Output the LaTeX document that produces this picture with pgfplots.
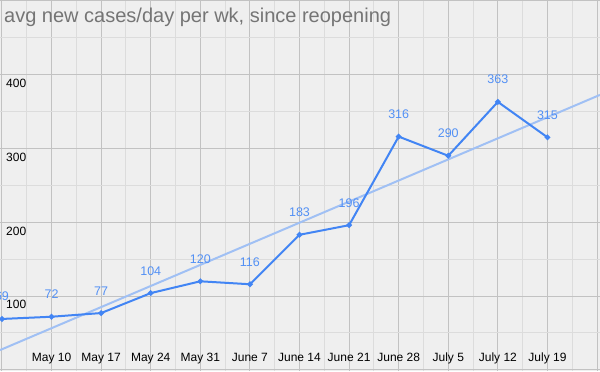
\documentclass[border=0pt]{standalone}
\usepackage{pgfplots}
\pgfplotsset{compat=1.18}
\usepackage{fontspec}
\setmainfont{Liberation Sans}
\definecolor{bgc}{HTML}{EFEFEF}
\definecolor{gmaj}{HTML}{C2C2C2}
\definecolor{gmin}{HTML}{DCDCDC}
\definecolor{linec}{HTML}{4285F4}
\definecolor{trendc}{HTML}{A0C0F4}
\definecolor{labc}{HTML}{5290F5}
\definecolor{titlec}{HTML}{757575}
\begin{document}
\begin{tikzpicture}
\begin{axis}[
  scale only axis, width=600pt, height=371pt,
  xmin=-0.04, xmax=12.06, ymin=-1.5, ymax=501,
  axis background/.style={fill=bgc},
  axis line style={draw=none},
  tick style={draw=none},
  grid=both,
  major grid style={draw=gmaj, line width=1pt},
  minor grid style={draw=gmin, line width=1pt},
  xtick={0,1,2,3,4,5,6,7,8,9,10,11,12},
  xticklabels={,May 10,May 17,May 24,May 31,June 7,June 14,June 21,June 28,July 5,July 12,July 19,},
  minor xtick={0.5,1.5,2.5,3.5,4.5,5.5,6.5,7.5,8.5,9.5,10.5,11.5},
  ytick={0,100,200,300,400,500},
  yticklabels={,100,200,300,400,},
  minor ytick={50,150,250,350,450},
  xticklabel style={anchor=base, yshift=9.3pt, font=\fontsize{12}{14}\selectfont, text=black},
  yticklabel style={anchor=north west, inner sep=0pt, xshift=6pt, yshift=-4.3pt, font=\fontsize{12}{14}\selectfont, text=black},
  /pgf/number format/assume math mode=true,
  clip=false,
]
\addplot[trendc, line width=2pt, no markers] coordinates {(-0.04,26.8) (12.06,372.5)};
\addplot[linec, line width=2pt, mark=*, mark size=1.7pt, mark options={fill=linec, draw=linec},
  nodes near coords,
  every node near coord/.append style={anchor=base, yshift=18pt, font=\fontsize{12.5}{14}\selectfont, text=labc, inner sep=0pt}]
  coordinates {(0,69) (1,72) (2,77) (3,104) (4,120) (5,116) (6,183) (7,196) (8,316) (9,290) (10,363) (11,315)};
\node[anchor=base west, inner sep=0pt, text=titlec, font=\fontsize{20}{23}\selectfont] at (rel axis cs:0,1) [xshift=4pt, yshift=-23pt] {avg new cases/day per wk, since reopening};
\end{axis}
\pgfresetboundingbox
\useasboundingbox (current axis.south west) rectangle (current axis.north east);
\end{tikzpicture}
\end{document}
